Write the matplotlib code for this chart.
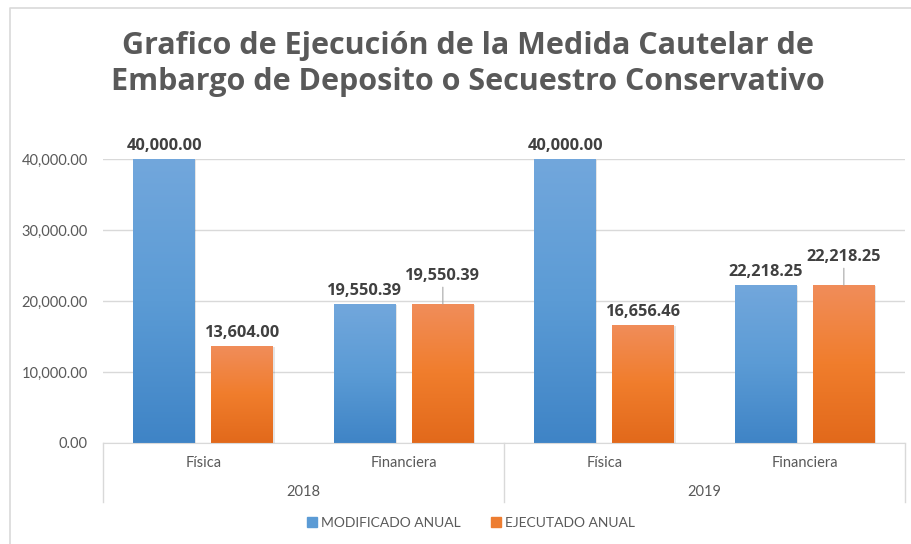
import numpy as np
import matplotlib
matplotlib.use("Agg")
import matplotlib.pyplot as plt
from matplotlib.colors import LinearSegmentedColormap
from matplotlib.patches import Patch
from matplotlib.lines import Line2D
import matplotlib.transforms as mtransforms

# data
categorias = ["Física", "Financiera", "Física", "Financiera"]
anios = ["2018", "2019"]
modificado = [40000.00, 19550.39, 40000.00, 22218.25]
ejecutado = [13604.00, 19550.39, 16656.46, 22218.25]
series = ["MODIFICADO ANUAL", "EJECUTADO ANUAL"]

titulo = "Grafico de Ejecución de la Medida Cautelar de\nEmbargo de Deposito o Secuestro Conservativo"

gris = "#595959"
gris_lbl = "#404040"
linea = "#D9D9D9"

azul_grad = LinearSegmentedColormap.from_list("az", ["#3F84C6", "#5B9BD5", "#72A7DC"])
nar_grad = LinearSegmentedColormap.from_list("na", ["#E2691B", "#F07D2C", "#F18D5A"])

fig = plt.figure(figsize=(9.11, 5.44), dpi=100)
ax = fig.add_axes([103/911, 1-443/544, (905-103)/911, (443-159)/544])

x = np.arange(len(categorias))
ancho = 0.309
off = 0.195

def barras_grad(xs, vals, cmap):
    bars = ax.bar(xs, vals, width=ancho, color="none", edgecolor="none")
    grad = np.linspace(0, 1, 256).reshape(-1, 1)
    for b in bars:
        x0, y0 = b.get_x(), b.get_y()
        w, h = b.get_width(), b.get_height()
        # soft shadow
        ax.add_patch(plt.Rectangle((x0 + 0.006, y0), w, h - 150, color="#000000", alpha=0.10, lw=0, zorder=1.5))
        im = ax.imshow(grad, extent=[x0, x0 + w, y0, y0 + h], origin="lower", cmap=cmap,
                       aspect="auto", zorder=2)
        im.set_clip_path(b)
    return bars

b1 = barras_grad(x - off, modificado, azul_grad)
b2 = barras_grad(x + off, ejecutado, nar_grad)

ax.set_xlim(-0.5, 3.5)
ax.set_ylim(0, 40000)
ax.set_yticks([0, 10000, 20000, 30000, 40000])
ax.yaxis.set_major_formatter(matplotlib.ticker.FuncFormatter(lambda v, p: f"{v:,.2f}"))
ax.tick_params(axis="y", length=0, pad=11, labelsize=10.5, labelcolor=gris)
for t in ax.get_yticklabels():
    t.set_family("Lato")
ax.set_xticks([])
ax.grid(axis="y", color=linea, lw=1)
ax.set_axisbelow(True)
for s in ["top", "right", "left"]:
    ax.spines[s].set_visible(False)
ax.spines["bottom"].set_color(linea)

# data labels
pt = mtransforms.offset_copy
for xi, v in zip(x - off, modificado):
    ax.text(xi, v, f"{v:,.2f}", ha="center", va="bottom", fontsize=11.8, fontweight="bold",
            color=gris_lbl, family="Open Sans",
            transform=pt(ax.transData, fig=fig, x=0, y=5, units="dots"))
for i, (xi, v) in enumerate(zip(x + off, ejecutado)):
    lider = categorias[i] == "Financiera"
    dy = 20 if lider else 5
    ax.text(xi, v, f"{v:,.2f}", ha="center", va="bottom", fontsize=11.8, fontweight="bold",
            color=gris_lbl, family="Open Sans",
            transform=pt(ax.transData, fig=fig, x=0, y=dy, units="dots"))
    if lider:
        ax.annotate("", xy=(xi, v), xytext=(0, 17), textcoords="offset pixels",
                    arrowprops=dict(arrowstyle="-", color="#A6A6A6", lw=0.8, shrinkA=0, shrinkB=0))

# multi-level category axis
tr = ax.get_xaxis_transform()
for xi, c in zip(x, categorias):
    ax.text(xi, -20/284, c, transform=tr, ha="center", va="center", fontsize=10.5,
            color=gris, family="Lato")
for k, a in enumerate(anios):
    ax.text(2*k + 0.5, -49/284, a, transform=tr, ha="center", va="center", fontsize=10.5,
            color=gris, family="Lato")
for xs in [-0.5, 1.5, 3.5]:
    ax.plot([xs, xs], [0, -59/284], transform=tr, color=linea, lw=1, clip_on=False)

# title
fig.text(0.514, 1-64/544, titulo, ha="center", va="center", fontsize=22, fontweight="bold",
         color=gris, family="Open Sans", linespacing=1.3)

# legend
handles = [Patch(color="#5B9BD5"), Patch(color="#ED7D31")]
fig.legend(handles, series, loc="center", bbox_to_anchor=(0.517, 1-523/544), ncol=2, frameon=False,
           handlelength=0.7, handleheight=0.7, handletextpad=0.3, columnspacing=2.2,
           prop={"family": "Lato", "size": 10}, labelcolor=gris)

# chart border
fig.add_artist(Line2D([10/911, 10/911, 1], [0, 1-8/544, 1-8/544], color=linea, lw=1.2,
                      transform=fig.transFigure))

fig.savefig("out.png", dpi=100)
